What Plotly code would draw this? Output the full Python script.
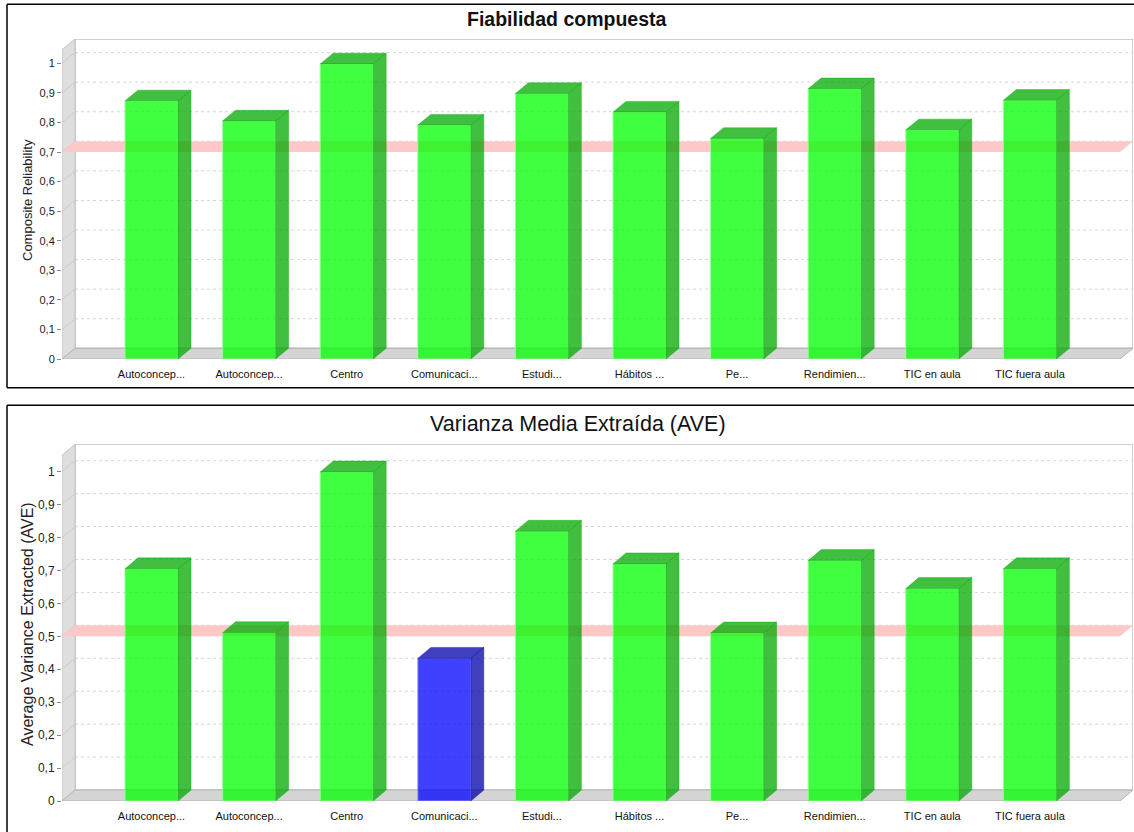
import plotly.graph_objects as go

# ---------------- data ----------------
categories = ["Autoconcep...", "Autoconcep...", "Centro", "Comunicaci...", "Estudi...",
              "Hábitos ...", "Pe...", "Rendimien...", "TIC en aula", "TIC fuera aula"]
composite_reliability = [0.873, 0.805, 0.998, 0.791, 0.898, 0.835, 0.746, 0.914, 0.775, 0.875]
ave_values = [0.705, 0.511, 0.999, 0.433, 0.819, 0.720, 0.510, 0.730, 0.645, 0.705]
cr_threshold = 0.7
ave_threshold = 0.5
y_tick_values = [0, 0.1, 0.2, 0.3, 0.4, 0.5, 0.6, 0.7, 0.8, 0.9, 1.0]
y_tick_labels = ["0", "0,1", "0,2", "0,3", "0,4", "0,5", "0,6", "0,7", "0,8", "0,9", "1"]

# ---------------- geometry (pixels) ----------------
W, H = 1134, 832
X_LEFT_PX, X_RIGHT_PX = 62, 1133
CAT0_PX, CAT_STEP_PX = 151.5, 97.6
DEPTH_X_PX = 13
BAR_W_PX = 53
FONT = "Liberation Sans, Arial, sans-serif"

xr0 = (X_LEFT_PX - CAT0_PX) / CAT_STEP_PX
xr1 = (X_RIGHT_PX - CAT0_PX) / CAT_STEP_PX
dx = DEPTH_X_PX / CAT_STEP_PX
bw = BAR_W_PX / CAT_STEP_PX

panels = [
    dict(values=composite_reliability, thr=cr_threshold, zero_px=359, unit_px=295.7, top_px=39,
         depth_px=10.7, xa="x", ya="y", title="<b>Fiabilidad compuesta</b>", title_size=19.5,
         title_xy=(567, 19), ytitle="Composite Reliability", ytitle_size=13, ytitle_y=200,
         tick_size=11, cat_size=11),
    dict(values=ave_values, thr=ave_threshold, zero_px=801, unit_px=329.3, top_px=444.3,
         depth_px=11, xa="x2", ya="y2", title="Varianza Media Extraída (AVE)", title_size=21.5,
         title_xy=(578, 424), ytitle="Average Variance Extracted (AVE)", ytitle_size=16,
         ytitle_y=624, tick_size=12, cat_size=11),
]

fig = go.Figure()
shapes = []
annotations = []
layout_axes = {}

for k, p in enumerate(panels):
    vals = p["values"]
    yr1 = (p["zero_px"] - p["top_px"]) / p["unit_px"]
    dy = p["depth_px"] / p["unit_px"]
    xa, ya = p["xa"], p["ya"]
    idx = list(range(len(categories)))

    front = ["rgba(0,255,0,0.75)" if v >= p["thr"] else "rgba(0,0,255,0.75)" for v in vals]
    side = ["rgba(0,170,0,0.75)" if v >= p["thr"] else "rgba(0,0,170,0.75)" for v in vals]
    edge = ["rgba(150,255,150,0.9)" if v >= p["thr"] else "rgba(150,150,255,0.9)" for v in vals]

    fig.add_trace(go.Bar(x=idx, y=vals, width=bw, marker=dict(color=front, line=dict(color=edge, width=1)),
                         xaxis=xa, yaxis=ya, hoverinfo="skip", showlegend=False))
    for i, v in enumerate(vals):
        xl, xr = i - bw / 2, i + bw / 2
        # side face
        fig.add_trace(go.Scatter(x=[xr, xr + dx, xr + dx, xr, xr], y=[0, dy, v + dy, v, 0],
                                 fill="toself", fillcolor=side[i], mode="lines",
                                 line=dict(color=side[i], width=0.5), xaxis=xa, yaxis=ya,
                                 hoverinfo="skip", showlegend=False))
        # top face
        fig.add_trace(go.Scatter(x=[xl, xl + dx, xr + dx, xr, xl], y=[v, v + dy, v + dy, v, v],
                                 fill="toself", fillcolor=side[i], mode="lines",
                                 line=dict(color=side[i], width=0.5), xaxis=xa, yaxis=ya,
                                 hoverinfo="skip", showlegend=False))

    # back wall
    shapes.append(dict(type="rect", xref=xa, yref=ya, x0=xr0 + dx, x1=xr1, y0=dy, y1=yr1,
                       fillcolor="white", line=dict(color="#c2c2c2", width=1.5), layer="below"))
    # gridlines on back wall
    for v in y_tick_values[1:]:
        shapes.append(dict(type="line", xref=xa, yref=ya, x0=xr0 + dx, x1=xr1, y0=v + dy, y1=v + dy,
                           line=dict(color="#d6d6d6", width=1, dash="3px,3px"), layer="below"))
    # left wall
    shapes.append(dict(type="path", xref=xa, yref=ya,
                       path=f"M{xr0},0 L{xr0+dx},{dy} L{xr0+dx},{yr1} L{xr0},{yr1-dy} Z",
                       fillcolor="#dedede", line=dict(color="#c4c4c4", width=1), layer="below"))
    for v in y_tick_values[1:]:
        shapes.append(dict(type="line", xref=xa, yref=ya, x0=xr0, x1=xr0 + dx, y0=v, y1=v + dy,
                           line=dict(color="#cccccc", width=1), layer="below"))
    # floor
    shapes.append(dict(type="path", xref=xa, yref=ya,
                       path=f"M{xr0},0 L{xr0+dx},{dy} L{xr1},{dy} L{xr1-dx},0 Z",
                       fillcolor="#d4d4d4", line=dict(color="#b4b4b4", width=1), layer="below"))
    # threshold band
    t = p["thr"]
    shapes.append(dict(type="path", xref=xa, yref=ya,
                       path=f"M{xr0},{t} L{xr0+dx},{t+dy} L{xr1},{t+dy} L{xr1-dx},{t} Z",
                       fillcolor="rgb(255,200,200)", line=dict(width=0), layer="below"))

    xkey = "xaxis" if k == 0 else "xaxis2"
    ykey = "yaxis" if k == 0 else "yaxis2"
    layout_axes[xkey] = dict(domain=[X_LEFT_PX / W, X_RIGHT_PX / W], range=[xr0, xr1],
                             anchor=ya, tickvals=idx, ticktext=categories, showgrid=False,
                             zeroline=False, showline=False, ticks="outside", ticklen=5,
                             tickcolor="rgba(0,0,0,0)", automargin=False,
                             tickfont=dict(family=FONT, size=p["cat_size"], color="#111"))
    layout_axes[ykey] = dict(domain=[1 - p["zero_px"] / H, 1 - p["top_px"] / H], range=[0, yr1],
                             anchor=xa, tickvals=y_tick_values, ticktext=y_tick_labels,
                             showgrid=False, zeroline=False, showline=False, ticks="outside",
                             ticklen=4, tickcolor="#888", automargin=False,
                             tickfont=dict(family=FONT, size=p["tick_size"], color="#222"))

    annotations.append(dict(text=p["title"], xref="paper", yref="paper",
                            x=p["title_xy"][0] / W, y=1 - p["title_xy"][1] / H,
                            xanchor="center", yanchor="middle", showarrow=False,
                            font=dict(family=FONT, size=p["title_size"], color="#111")))
    annotations.append(dict(text=p["ytitle"], xref="paper", yref="paper",
                            x=27 / W, y=1 - p["ytitle_y"] / H, textangle=-90,
                            xanchor="center", yanchor="middle", showarrow=False,
                            font=dict(family=FONT, size=p["ytitle_size"], color="#222")))

# panel borders (kept inside the page)
border = dict(color="black", width=1.5)
for (x0, y0, x1, y1) in [(7, 4.3, W, 4.3), (7, 4.3, 7, 387.7), (7, 387.7, W, 387.7),
                         (7, 405.3, W, 405.3), (7, 405.3, 7, H)]:
    shapes.append(dict(type="line", xref="paper", yref="paper", x0=x0 / W, x1=x1 / W,
                       y0=1 - y0 / H, y1=1 - y1 / H, line=border, layer="above"))

fig.update_layout(width=W, height=H, autosize=False, margin=dict(l=0, r=0, t=0, b=0, pad=0),
                  paper_bgcolor="white", plot_bgcolor="white", showlegend=False,
                  separators=",.", shapes=shapes, annotations=annotations,
                  font=dict(family=FONT), **layout_axes)

fig.write_html("out.html")
